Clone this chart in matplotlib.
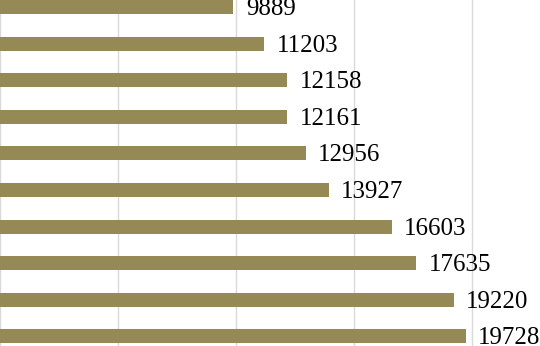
import matplotlib
matplotlib.use("Agg")
import matplotlib.pyplot as plt

categories = [f"Item {i}" for i in range(1, 11)]
values = [9889, 11203, 12158, 12161, 12956, 13927, 16603, 17635, 19220, 19728]
xticks = [0, 5000, 10000, 15000, 20000]

bar_color = "#958A55"

fig = plt.figure(figsize=(5.4, 3.46), dpi=100)
ax = fig.add_axes([0, 0, 1, 1])

ypos = list(range(len(values)))
ax.barh(ypos, values, height=0.38, color=bar_color, zorder=2)

for y, v in zip(ypos, values):
    ax.annotate(str(v), xy=(v, y), xytext=(9.0, -1.5), textcoords="offset points",
                ha="left", va="center", fontsize=18, family="Liberation Serif",
                color="black", zorder=3)

ax.set_xlim(0, 22881)
ax.set_ylim(9.262, -0.191)
ax.set_xticks(xticks)
ax.set_yticks(ypos)
ax.set_yticklabels(categories)
ax.grid(axis="x", color="#D9D9D9", linewidth=1.0, zorder=0)
ax.tick_params(left=False, bottom=False, labelleft=False, labelbottom=False)
for s in ax.spines.values():
    s.set_visible(False)

fig.savefig("out.png", dpi=100)
